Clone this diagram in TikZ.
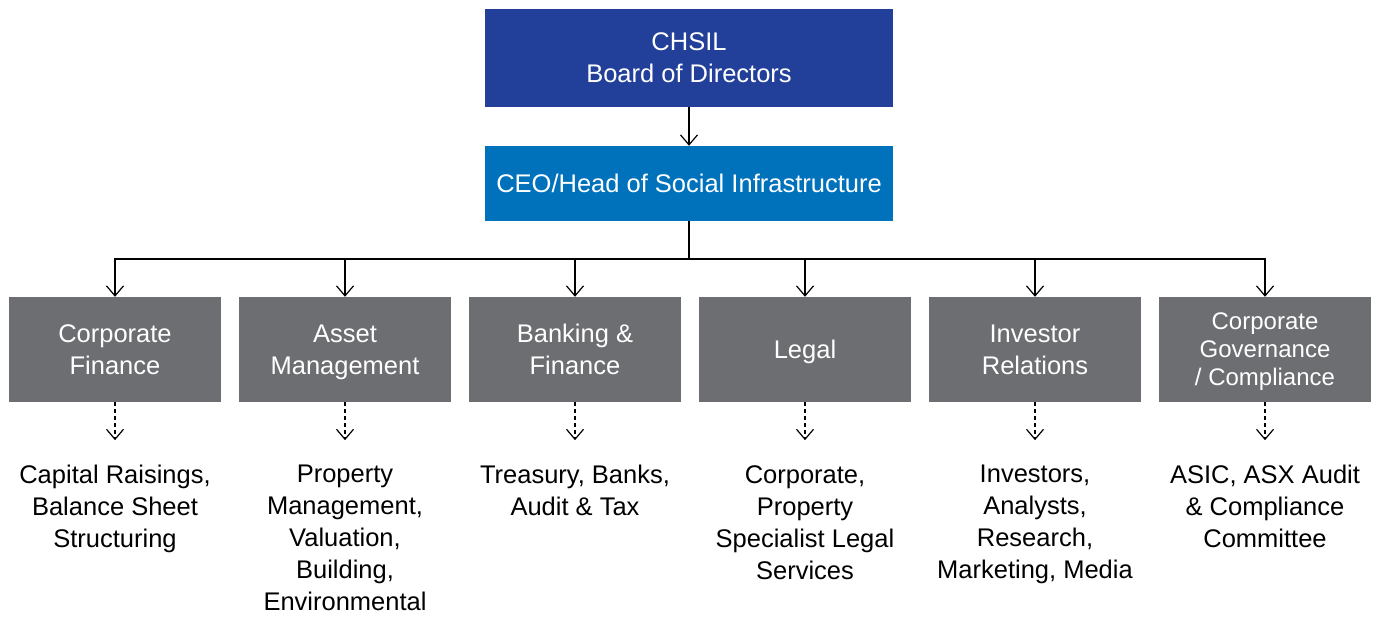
\documentclass[tikz,border=0pt]{standalone}
\usepackage{fontspec}
\setmainfont{Liberation Sans}
\usetikzlibrary{arrows.meta}

\definecolor{boardblue}{HTML}{22409A}
\definecolor{ceoblue}{HTML}{0071BB}
\definecolor{deptgray}{HTML}{6D6E71}

\begin{document}
\begin{tikzpicture}[x=1pt,y=-1pt,
    box/.style={rectangle, inner sep=0pt, text=white, align=center, text depth=0pt,
                font=\fontsize{25.5}{32}\selectfont},
    dept/.style={box, fill=deptgray, minimum width=212pt, minimum height=105pt},
    desc/.style={inner sep=0pt, align=center, anchor=north,
                 font=\fontsize{25.5}{32}\selectfont},
    arr/.style={line width=1.2pt, -{Straight Barb[length=10pt,width=17pt]}},
    dasharr/.style={arr, dash pattern=on 4pt off 3pt}]
    \useasboundingbox (0,0) rectangle (1378,617);

    % top of the chart
    \node[box, fill=boardblue, minimum width=408pt, minimum height=98pt] (board) at (689,58)
        {CHSIL\\Board of Directors};
    \node[box, fill=ceoblue, minimum width=408pt, minimum height=75pt] (ceo) at (689,183.5)
        {CEO/Head of Social Infrastructure};
    \draw[arr] (board) -- (ceo);
    \coordinate (bus) at (689,259);

    % departments
    \node[dept] (cf) at (115,349.5) {Corporate\\Finance};
    \node[dept] (am) at (345,349.5) {Asset\\Management};
    \node[dept] (bf) at (575,349.5) {Banking \&\\Finance};
    \node[dept] (lg) at (805,349.5) {Legal};
    \node[dept, font=\fontsize{24}{28}\selectfont] (cg) at (1265,349.5)
        {Corporate\\Governance\\/ Compliance};
    \node[dept] (ir) at (1035,349.5) {Investor\\Relations};

    % what each department looks after
    \node[desc] (cfd) at (115,465) {Capital Raisings,\\Balance Sheet\\Structuring};
    \node[desc] (amd) at (345,465) {Property\\Management,\\Valuation,\\Building,\\Environmental};
    \node[desc] (bfd) at (575,465) {Treasury, Banks,\\Audit \& Tax};
    \node[desc] (lgd) at (805,465) {Corporate,\\Property\\Specialist Legal\\Services};
    \node[desc] (ird) at (1035,465) {Investors,\\Analysts,\\Research,\\Marketing, Media};
    \node[desc] (cgd) at (1265,465) {ASIC, ASX Audit\\\& Compliance\\Committee};

    \foreach \d in {cf,am,bf,lg,ir,cg} {
        \draw[arr] (ceo.south) -- (bus) -| (\d.north);
        \draw[dasharr] (\d.south) -- ++(0,38);
    }
\end{tikzpicture}
\end{document}
